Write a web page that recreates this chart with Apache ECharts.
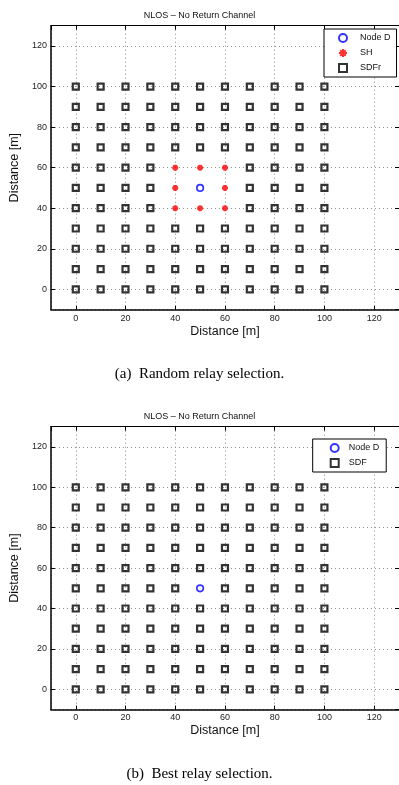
<!DOCTYPE html>
<html>
<head>
<meta charset="utf-8">
<script src="https://cdn.jsdelivr.net/npm/echarts@6/dist/echarts.min.js"></script>
<style>
html,body{margin:0;padding:0;background:#fff;}
#c{width:399px;height:785px;}
</style>
</head>
<body>
<div id="c"></div>
<script>
// ---- data ----
const gridX = [0, 10, 20, 30, 40, 50, 60, 70, 80, 90, 100];
const gridY = [0, 10, 20, 30, 40, 50, 60, 70, 80, 90, 100];
const nodeD = [[50, 50]];
const shNodes = [[40, 40], [50, 40], [60, 40], [40, 50], [60, 50], [40, 60], [50, 60], [60, 60]];
const titleText = 'NLOS \u2013 No Return Channel';
const captionA = '(a)  Random relay selection.';
const captionB = '(b)  Best relay selection.';
const axisName = 'Distance [m]';

function isIn(list, x, y) { return list.some(p => p[0] === x && p[1] === y); }
const sdfrNodes = [];
const sdfNodes = [];
gridX.forEach(x => gridY.forEach(y => {
  if (!isIn(nodeD, x, y) && !isIn(shNodes, x, y)) sdfrNodes.push([x, y]);
  if (!isIn(nodeD, x, y)) sdfNodes.push([x, y]);
}));

const chart = echarts.init(document.getElementById('c'), null, {renderer: 'canvas'});
const SANS = 'Liberation Sans, Arial, Helvetica, sans-serif';
const SERIF = 'Liberation Serif, Times New Roman, serif';

function lblFmt(v) { return (v % 20 === 0) ? String(v) : ''; }

const axBase = {type: 'value', min: -10, max: 130, splitNumber: 7, minInterval: 20, maxInterval: 20};

function mainX(gi, gap) {
  return Object.assign({}, axBase, {
    gridIndex: gi, position: 'bottom',
    name: axisName, nameLocation: 'middle', nameGap: gap,
    nameTextStyle: {fontFamily: SANS, fontSize: 12.5, color: '#111'},
    axisLine: {show: true, onZero: false, lineStyle: {color: '#000', width: 1.5}},
    axisTick: {show: true, inside: true, length: 4, lineStyle: {color: '#000'}},
    axisLabel: {margin: 4, fontFamily: SANS, fontSize: 9, color: '#222', formatter: lblFmt, showMinLabel: false, showMaxLabel: false},
    splitLine: {show: true, lineStyle: {color: '#8a8a8a', width: 1, type: [1, 3]}}
  });
}
function mainY(gi, gap) {
  return Object.assign({}, axBase, {
    gridIndex: gi, position: 'left',
    name: axisName, nameLocation: 'middle', nameGap: gap,
    nameTextStyle: {fontFamily: SANS, fontSize: 12.5, color: '#111'},
    axisLine: {show: true, onZero: false, lineStyle: {color: '#000', width: 1.5}},
    axisTick: {show: true, inside: true, length: 4, lineStyle: {color: '#000'}},
    axisLabel: {margin: 4, fontFamily: SANS, fontSize: 9, color: '#222', formatter: lblFmt, showMinLabel: false, showMaxLabel: false},
    splitLine: {show: true, lineStyle: {color: '#8a8a8a', width: 1, type: [1, 3]}}
  });
}
function mirrorX(gi) {
  return Object.assign({}, axBase, {
    gridIndex: gi, position: 'top',
    axisLine: {show: true, onZero: false, lineStyle: {color: '#000', width: 1}},
    axisTick: {show: true, inside: true, length: 4, lineStyle: {color: '#000'}},
    axisLabel: {show: false}, splitLine: {show: false}
  });
}
function mirrorY(gi) {
  return Object.assign({}, axBase, {
    gridIndex: gi, position: 'right',
    axisLine: {show: true, onZero: false, lineStyle: {color: '#000', width: 1}},
    axisTick: {show: true, inside: true, length: 4, lineStyle: {color: '#000'}},
    axisLabel: {show: false}, splitLine: {show: false}
  });
}

const asterisk = 'path://M0,-10L0,10M-10,0L10,0M-7,-7L7,7M-7,7L7,-7';

function nodeDSeries(xi, yi) {
  return {
    name: 'Node D', type: 'scatter', xAxisIndex: xi, yAxisIndex: yi, data: nodeD,
    symbol: 'circle', symbolSize: 6.5, z: 5,
    itemStyle: {color: 'rgba(255,255,255,0)', borderColor: '#0000ff', borderWidth: 1.7}
  };
}
function squareSeries(name, data, xi, yi) {
  return {
    name: name, type: 'scatter', xAxisIndex: xi, yAxisIndex: yi, data: data,
    symbol: 'rect', symbolSize: 6, z: 4,
    itemStyle: {color: 'rgba(255,255,255,0)', borderColor: '#000', borderWidth: 2.2}
  };
}

const option = {
  backgroundColor: '#fff',
  animation: false,
  title: [
    {text: titleText, left: 'center', top: 6, textStyle: {fontFamily: SANS, fontSize: 9, fontWeight: 'normal', color: '#111'}},
    {text: titleText, left: 'center', top: 407, textStyle: {fontFamily: SANS, fontSize: 9, fontWeight: 'normal', color: '#111'}}
  ],
  grid: [
    {left: 44.3, right: -5, top: 25.7, bottom: 475.4, containLabel: false},
    {left: 41, right: -1.3, top: 426.7, bottom: 75.5, containLabel: false}
  ],
  xAxis: [mainX(0, 15), mirrorX(0), mainX(1, 15), mirrorX(1)],
  yAxis: [mainY(0, 21), mirrorY(0), mainY(1, 21), mirrorY(1)],
  legend: [
    {
      data: ['Node D', 'SH', 'SDFr'], orient: 'vertical', left: 324, top: 29,
      itemWidth: 8, itemHeight: 8, itemGap: 5, padding: [4, 6, 4, 14],
      backgroundColor: '#fff', borderColor: '#000', borderWidth: 1, selectedMode: false,
      textStyle: {fontFamily: SANS, fontSize: 9, color: '#111', padding: [0, 0, 0, 8]}
    },
    {
      data: ['Node D', 'SDF'], orient: 'vertical', left: 312.7, top: 439,
      itemWidth: 8, itemHeight: 8, itemGap: 5, padding: [4, 7, 4, 17],
      backgroundColor: '#fff', borderColor: '#000', borderWidth: 1, selectedMode: false,
      textStyle: {fontFamily: SANS, fontSize: 9, color: '#111', padding: [0, 0, 0, 5]}
    }
  ],
  series: [
    nodeDSeries(0, 0),
    {
      name: 'SH', type: 'scatter', xAxisIndex: 0, yAxisIndex: 0, data: shNodes,
      symbol: asterisk, symbolSize: 6, z: 5,
      itemStyle: {color: '#ff0000', borderColor: '#ff0000', borderWidth: 2}
    },
    squareSeries('SDFr', sdfrNodes, 0, 0),
    nodeDSeries(2, 2),
    squareSeries('SDF', sdfNodes, 2, 2)
  ],
  graphic: [
    {type: 'text', left: 'center', top: 367, style: {text: captionA, font: '15px ' + SERIF, fill: '#000'}},
    {type: 'text', left: 'center', top: 767, style: {text: captionB, font: '15px ' + SERIF, fill: '#000'}}
  ]
};
chart.setOption(option);
</script>
</body>
</html>
